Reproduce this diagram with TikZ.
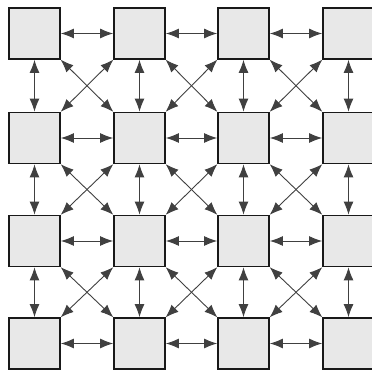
\documentclass[tikz,border=0pt]{standalone}
\usetikzlibrary{arrows.meta}
\tikzset{
  cell/.style={draw=black!90, line width=1.8pt, fill=black!9, minimum size=51pt, inner sep=0pt, outer sep=0pt},
  link/.style={draw=black!75, line width=0.9pt, {Latex[length=13pt,width=10pt]}-{Latex[length=13pt,width=10pt]}, shorten <=0.9pt, shorten >=0.9pt}
}
\begin{document}
\begin{tikzpicture}[x=1pt,y=-1pt]
\useasboundingbox (0,0) rectangle (372,371);
\foreach \c/\x in {1/34.5,2/139.5,3/243.5,4/348.5}{
  \foreach \r/\y in {1/33.5,2/138,3/241,4/343.5}{
    \node[cell] (n\r\c) at (\x,\y) {};
  }
}
% horizontal
\foreach \r in {1,2,3,4}{
  \foreach \c/\d in {1/2,2/3,3/4}{
    \draw[link] (n\r\c.east) -- (n\r\d.west);
  }
}
% vertical
\foreach \r/\s in {1/2,2/3,3/4}{
  \foreach \c in {1,2,3,4}{
    \draw[link] (n\r\c.south) -- (n\s\c.north);
  }
}
% diagonals
\foreach \r/\s in {1/2,2/3,3/4}{
  \foreach \c/\d in {1/2,2/3,3/4}{
    \draw[link] (n\r\c.south east) -- (n\s\d.north west);
    \draw[link] (n\r\d.south west) -- (n\s\c.north east);
  }
}
\end{tikzpicture}
\end{document}
